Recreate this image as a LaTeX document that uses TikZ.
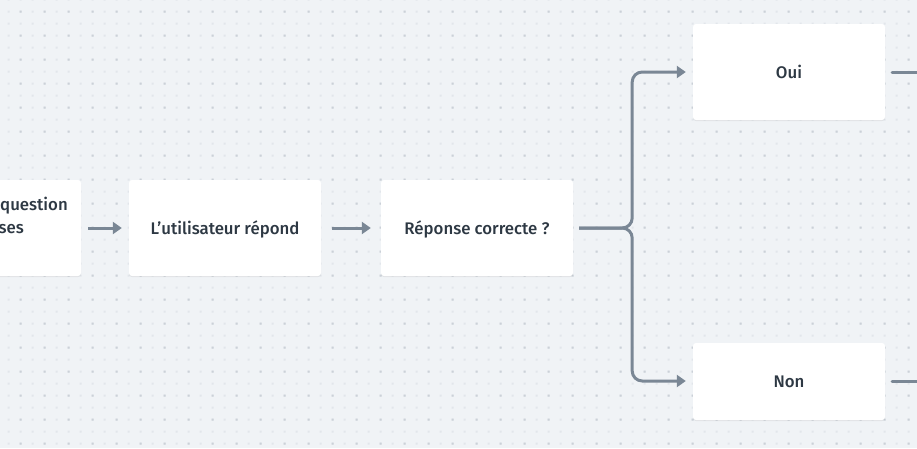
\documentclass[tikz,border=0pt]{standalone}
\usepackage{fontspec}
\setmainfont{Fira Sans}[UprightFont={* Medium}]
\usetikzlibrary{arrows.meta,shadows}
\definecolor{bgc}{HTML}{F0F3F6}
\definecolor{dotlight}{HTML}{E2E6EB}
\definecolor{dotdark}{HTML}{CBD1D8}
\definecolor{linec}{HTML}{7A8795}
\definecolor{textc}{HTML}{2D3843}
\tikzset{
  box/.style={rectangle, rounded corners=3pt, fill=white, minimum width=192pt,
    inner sep=0pt, text=textc, font=\fontsize{16.8}{21}\selectfont,
    text height=16pt, text depth=4pt,
    drop shadow={shadow xshift=0pt, shadow yshift=-1pt, opacity=0.07, fill=black}},
  lbl/.style={text=textc, font=\fontsize{16.8}{21}\selectfont, inner sep=0pt},
  arr/.style={draw=linec, line width=3pt, -{Triangle[length=9pt,width=12pt]}},
  link/.style={draw=linec, line width=3pt, line cap=round}
}
\begin{document}
\begin{tikzpicture}[x=1pt,y=-1pt]
\useasboundingbox (0,0) rectangle (917,448);
\clip (0,0) rectangle (917,448);
\fill[bgc] (0,0) rectangle (917,448);
% dot grid
\fill[dotlight] \foreach \i in {0,...,76} {\foreach \j in {0,...,37} {(7.7+12*\i,-1.3+12*\j) rectangle ++(2,2)}};
\fill[dotdark] \foreach \i in {0,...,37} {\foreach \j in {0,...,18} {(19.7+24*\i,10.7+24*\j) rectangle ++(2,2)}};
% boxes
\node[box, minimum height=96pt] (b1) at (-15,228) {};
\node[lbl, anchor=base west] (q1) at (0,210.5) {question};
\node[lbl, anchor=base east] (q2) at (24,233.5) {ses};
\node[box, minimum height=96pt] (b2) at (225,228) {L\char"27 utilisateur répond};
\node[box, minimum height=96pt] (b3) at (477,228) {Réponse correcte ?};
\node[box, minimum height=96pt] (oui) at (789,72) {Oui};
\node[box, minimum height=77pt] (non) at (789,381.5) {Non};
\coordinate (ouiout) at (930,72);
\coordinate (nonout) at (930,381);
% connectors
\draw[arr] ([xshift=7pt]b1.east) -- ([xshift=-7pt]b2.west);
\draw[arr] ([xshift=11pt]b2.east) -- ([xshift=-10pt]b3.west);
\draw[arr, rounded corners=10pt] ([xshift=6pt]b3.east) -- ++(53,0) |- ([xshift=-7pt]oui.west);
\draw[arr, rounded corners=10pt] ([xshift=6pt]b3.east) -- ++(53,0) |- ([xshift=-7pt,yshift=0.5pt]non.west);
\draw[link] ([xshift=7pt]oui.east) -- (ouiout);
\draw[link] ([xshift=7pt,yshift=0.5pt]non.east) -- (nonout);
\end{tikzpicture}
\end{document}
